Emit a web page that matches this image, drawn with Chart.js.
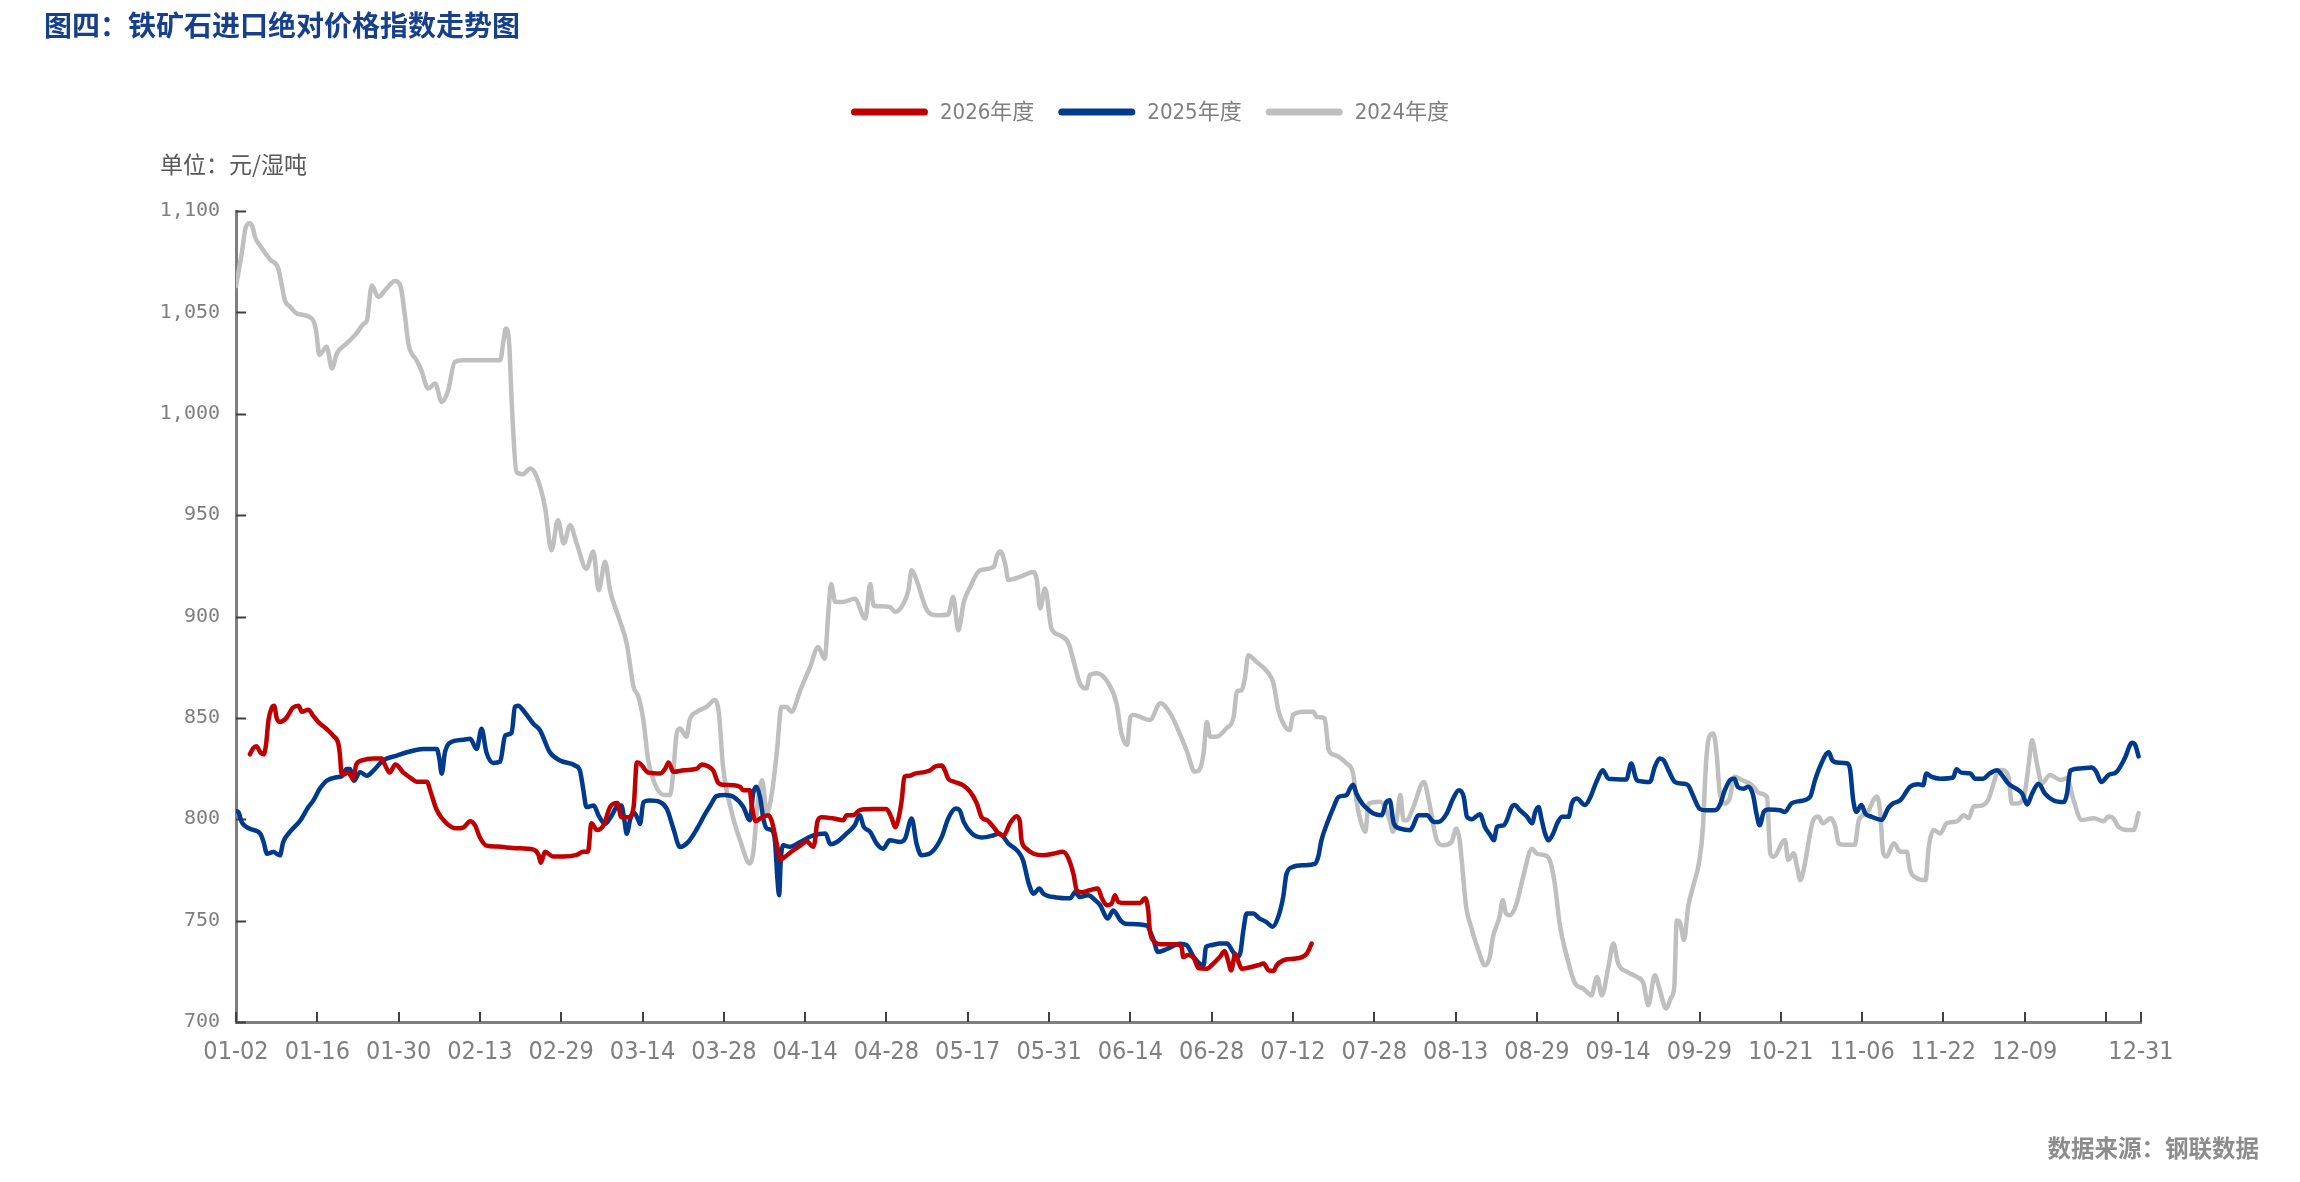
<!DOCTYPE html>
<html>
<head>
<meta charset="utf-8">
<script src="https://cdn.jsdelivr.net/npm/chart.js@4.4.1/dist/chart.umd.min.js"></script>
<style>
  html, body { margin: 0; padding: 0; background: #fff; }
  #wrap { position: relative; width: 2300px; height: 1182px; }
  #chart { position: absolute; left: 0; top: 0; }
  .txt { position: absolute; line-height: 1; white-space: nowrap; font-family: "Noto Sans CJK SC", sans-serif; }
  #title { left: 44px; top: 10px; font-size: 28px; font-weight: 700; color: #163f8c; }
  #unit { left: 160px; top: 152px; font-size: 23px; color: #595959; }
  #source { right: 41px; top: 1136px; font-size: 23.5px; font-weight: 700; color: #8c8c8c; }
</style>
</head>
<body>
<div id="wrap">
  <canvas id="chart" width="2300" height="1182"></canvas>
  <div id="title" class="txt">图四：铁矿石进口绝对价格指数走势图</div>
  <div id="unit" class="txt">单位：元/湿吨</div>
  <div id="source" class="txt">数据来源：钢联数据</div>
</div>
<script>
// x is the trading-day position counted from 01-02
const tickPositions = [0, 10, 20, 30, 40, 50, 60, 70, 80, 90, 100, 110, 120, 130, 140, 150, 160, 170, 180, 190, 200, 210, 220, 230, 234.3];
const tickLabels = ['01-02', '01-16', '01-30', '02-13', '02-29', '03-14', '03-28', '04-14', '04-28', '05-17', '05-31', '06-14', '06-28',
  '07-12', '07-28', '08-13', '08-29', '09-14', '09-29', '10-21', '11-06', '11-22', '12-09', '', '12-31'];

const seriesNames = ['2026年度', '2025年度', '2024年度'];

const values2026 = [
  [1.7, 832], [2.1, 835], [2.5, 836], [3.0, 833], [3.4, 832], [3.7, 837], [4.0, 849], [4.4, 855], [4.7, 856], [5.0, 850],
  [5.4, 848], [6.2, 850], [7.0, 855], [7.7, 856], [8.1, 853], [8.9, 854], [9.5, 851], [10.1, 848], [11.0, 845], [12.0, 841],
  [12.6, 837], [12.8, 831], [12.95, 823], [13.2, 822], [13.8, 823], [14.4, 820], [14.8, 827], [15.5, 829], [16.9, 830], [17.9, 830],
  [18.3, 827], [18.9, 823], [19.6, 827], [20.6, 823], [21.6, 820], [22.2, 818.5], [23.5, 818.5], [23.9, 814], [24.7, 804.5], [25.9, 798],
  [27.1, 795.5], [28, 796], [28.8, 799], [29.4, 797], [30, 791], [30.8, 787], [32.1, 786.5], [34.5, 785.7], [36.6, 785], [37.2, 782.5],
  [37.5, 778.5], [38, 784], [39, 781.6], [40.3, 781.6], [41.9, 782.4], [42.7, 784], [43.3, 784], [43.7, 798], [44.4, 794.7], [45.2, 797],
  [46, 806], [46.9, 808], [47.4, 801], [48.3, 801], [48.9, 806], [49.3, 828], [49.7, 827.5], [50.7, 823], [52.2, 822.6], [52.8, 825],
  [53.2, 828], [53.8, 823.4], [55.1, 824.2], [56.7, 825], [57.3, 827], [58.1, 826], [58.7, 824], [59.3, 818], [59.9, 817], [61.2, 816.8],
  [62, 816], [62.4, 814.3], [63.2, 814.3], [63.4, 808], [63.9, 799], [64.7, 801], [65.5, 802], [65.9, 799], [66.3, 792], [66.7, 784],
  [66.9, 780], [67.5, 781.4], [68.3, 784], [69.4, 787], [70.2, 789], [71, 786.4], [71.2, 789], [71.5, 798.7], [72, 801], [73.5, 800.4],
  [74.7, 799.5], [75.1, 802], [75.9, 802], [76.7, 804.5], [78.4, 805], [80, 805], [80.6, 801], [81.1, 796], [81.4, 799], [81.9, 810],
  [82.2, 821], [82.9, 821.5], [83.5, 822.5], [84.8, 823.4], [85.4, 824.2], [86, 826], [86.8, 826.5], [87.2, 824], [87.6, 820], [88.4, 818.4],
  [89.4, 816.8], [90.3, 813.5], [91.1, 808], [91.7, 801], [92.4, 799.5], [93.2, 796], [93.8, 793], [94.4, 792], [95.2, 798], [96, 801.5],
  [96.4, 799], [96.6, 790], [97.2, 785.5], [98.1, 783], [99.3, 782.2], [100.5, 783], [101.7, 784], [102.3, 781.4], [103, 773], [103.4, 765],
  [104, 764], [105, 765], [106, 765.8], [106.5, 761], [107.1, 757.6], [107.7, 758.4], [108.1, 762.5], [108.5, 759.2], [109.4, 758.7], [111.2, 758.7],
  [111.8, 761], [112.2, 755], [112.4, 745], [113, 739.5], [113.7, 738.3], [115.7, 738.3], [116.3, 737], [116.5, 732], [117.1, 733], [117.8, 731.5],
  [118.4, 726.5], [119.4, 726.3], [120.2, 728.8], [121, 732], [121.6, 735], [122, 730.5], [122.4, 725.5], [122.9, 733.7], [123.3, 729.6], [123.7, 726.3],
  [124.7, 727], [125.7, 728], [126.4, 728.8], [127, 725.5], [127.6, 725.2], [128, 728], [128.8, 730.4], [130, 731.2], [131.1, 732], [131.7, 733.7],
  [132.3, 738.7]
];

const values2025 = [
  [0, 804], [0.3, 803.5], [0.7, 798.6], [1.7, 795.3], [3, 792.8], [3.4, 788.7], [3.8, 783], [4.6, 783.8], [5.4, 782.2], [5.8, 788.7],
  [6.6, 793.6], [7.9, 799.4], [8.9, 806], [9.5, 809.2], [10.3, 815], [11.15, 819], [12.4, 820.7], [13, 821.2], [13.6, 824.8], [14, 824.8],
  [14.5, 819], [15.25, 823.2], [16.1, 821.5], [16.9, 824], [18.1, 829], [19.8, 831.4], [21.4, 833.4], [23, 834.7], [24.7, 834.7], [25, 830],
  [25.3, 822.5], [25.7, 833], [26.3, 837.7], [28, 839.2], [28.8, 839.7], [29.6, 834.7], [30.2, 844.6], [30.8, 833], [31.65, 827.8], [32.5, 828.5],
  [33.1, 841.3], [33.9, 842.6], [34.3, 855.3], [34.7, 856], [35.5, 852.8], [36.6, 847], [37.4, 843.8], [38.6, 833], [39.85, 829], [41.7, 826.5],
  [42.3, 824], [42.7, 815], [43.1, 806], [44, 806.8], [44.6, 801.8], [45.4, 797.7], [46.2, 801.8], [47, 806.8], [47.4, 806.8], [47.8, 798.6],
  [48.05, 792.8], [48.5, 800.2], [48.9, 803.5], [49.5, 799.4], [49.7, 797.7], [50.1, 808.4], [50.9, 809.2], [52.2, 808.4], [53, 805], [53.8, 795.3],
  [54.6, 786.3], [55.6, 788.7], [56.7, 795.3], [57.7, 802.7], [58.3, 806.5], [59.1, 811.4], [60.1, 812], [61.2, 811], [62.4, 806], [63.2, 799.5],
  [63.6, 812.6], [64, 816], [64.45, 811], [64.9, 799.5], [65.3, 795.4], [65.9, 794.6], [66.3, 788.8], [66.6, 770], [66.8, 762.5], [67, 779.8],
  [67.3, 787.2], [68.1, 786.4], [69.4, 788.8], [71, 792], [72.5, 793], [73.1, 787.7], [73.9, 788.8], [75.1, 793], [76.1, 797], [76.7, 802],
  [77.2, 796.3], [78, 793.8], [78.8, 788], [79.6, 785.5], [80.4, 789.6], [81.7, 788.8], [82.3, 790.5], [83.1, 800.4], [83.7, 788], [84.3, 782.3],
  [85.6, 783.9], [86.8, 791.3], [87.6, 800.4], [88.5, 805.3], [89, 804.5], [89.5, 798.7], [90.5, 793], [91.7, 791], [93.1, 792], [93.9, 793],
  [95, 788], [96.2, 784], [96.8, 779.8], [97.5, 768.3], [98.1, 763.3], [98.8, 765.8], [99.3, 763.3], [100.9, 761.4], [102.6, 761], [103.2, 764],
  [103.8, 761.6], [104.8, 762.5], [105.7, 760], [106.3, 757.5], [107.2, 751], [107.9, 755], [108.8, 750], [109.4, 748.5], [112, 747.6], [112.8, 741],
  [113.4, 734.5], [114.5, 736], [116.1, 738.6], [116.9, 738], [117.8, 732], [118.6, 728.5], [119, 728], [119.3, 737], [119.8, 737.8], [121, 738.7],
  [121.9, 738.7], [122.5, 735.4], [123.1, 732], [123.5, 733.7], [123.9, 745.3], [124.3, 753.5], [125.1, 753.5], [125.9, 751], [126.7, 749.4], [127.5, 747],
  [128.2, 752], [128.8, 761.7], [129.2, 773], [130, 776.5], [131.3, 777.3], [132.7, 778], [133.1, 781.4], [133.5, 789.6], [134.2, 798], [135, 806],
  [135.6, 811], [136.6, 812], [137, 815], [137.4, 817], [137.8, 812.7], [138.5, 807.8], [139.1, 805.3], [139.9, 802.8], [140.9, 802], [141.5, 808.6],
  [141.9, 809.4], [142.4, 798], [143.2, 795.4], [144.4, 794.6], [144.8, 797], [145.4, 802], [146.5, 802], [147.3, 798.7], [147.9, 798.7], [148.9, 802.8],
  [149.7, 810.2], [150.4, 814.3], [151, 811], [151.4, 801.2], [152, 800], [153, 802.5], [153.6, 796.2], [154.3, 792], [154.7, 789.6], [155.1, 796.2],
  [155.9, 797], [156.3, 799.5], [156.9, 806], [157.3, 807], [157.9, 804.5], [158.8, 801.2], [159.4, 798], [159.8, 803.7], [160.2, 806], [160.6, 799.5],
  [161, 793], [161.4, 789.6], [162, 793], [162.5, 798], [163.1, 801.2], [163.9, 801.2], [164.3, 807.8], [164.9, 810.2], [165.9, 807], [166.5, 810.2],
  [167.4, 819.2], [168.1, 824.2], [168.8, 820], [171, 819.6], [171.6, 827.5], [172.3, 819.2], [173.9, 818.4], [174.5, 825.8], [175.1, 830], [175.6, 829],
  [176.2, 824], [177, 818.3], [178, 817.5], [178.6, 816.7], [179.2, 811.7], [180, 805.2], [180.8, 804.4], [181.9, 804.4], [182.5, 807], [183.1, 814.2],
  [183.8, 819.5], [184.3, 820], [184.7, 816], [185.4, 815.1], [186, 816], [186.6, 811.8], [187, 802.8], [187.4, 797], [187.9, 803.6], [188.5, 804.8],
  [189.9, 804.4], [190.5, 803.6], [191.3, 807.8], [192.4, 809], [193.6, 811], [194.2, 819.2], [194.8, 825.8], [195.9, 833], [196.3, 829.3], [196.9, 828],
  [198.1, 827.6], [198.5, 825], [198.9, 809.5], [199.3, 803.7], [199.9, 807], [200.4, 802.8], [201.2, 801.2], [202.4, 799.6], [203.2, 805.4], [203.8, 807.8],
  [204.7, 809.4], [205.9, 816], [206.9, 817.3], [207.5, 816.8], [207.9, 822.6], [208.5, 821], [209.6, 820], [211.2, 820.6], [211.6, 824.6], [212.2, 823],
  [213.3, 822.6], [213.9, 820], [214.9, 820], [215.7, 822.6], [216.6, 824.2], [217.2, 821.8], [218, 817.5], [219, 815], [219.7, 812.6], [220.3, 807.3],
  [220.9, 812.6], [221.7, 817.5], [222.5, 812.6], [223.5, 809.4], [224.8, 808.5], [225.2, 812.6], [225.6, 824], [226.8, 825], [228.2, 825.5], [228.8, 823.4],
  [229.4, 818.4], [230.3, 821.8], [231.3, 823.4], [232.3, 830], [233.2, 837.7], [233.6, 836.5], [234, 831]
];

const values2024 = [
  [0, 1063], [0.7, 1079], [1.2, 1092], [1.7, 1094], [2.05, 1092], [2.35, 1087], [2.95, 1083], [4.2, 1076], [5.2, 1071.6], [5.6, 1064],
  [6.0, 1056], [6.6, 1053], [7.5, 1049.4], [9.3, 1047], [9.85, 1041], [10.25, 1029], [11.15, 1033], [11.8, 1022.3], [12.4, 1029.7], [13.6, 1034.6],
  [14.8, 1039.5], [15.7, 1044.4], [16.1, 1046], [16.7, 1063.3], [17.5, 1057.6], [18.5, 1061.7], [19.55, 1065.5], [20.2, 1063.3], [20.8, 1047.7], [21.2, 1034.6],
  [22.2, 1026.4], [22.8, 1021.4], [23.65, 1012.4], [24.5, 1014.9], [25.3, 1005.8], [26.1, 1011.6], [26.9, 1025.5], [28, 1026.4], [32.5, 1026.4], [32.9, 1036],
  [33.2, 1042], [33.6, 1034.6], [33.9, 1006.6], [34.5, 971.3], [35.3, 970.2], [36.2, 973], [37, 968.8], [38, 954], [38.8, 932.7], [39.6, 947.5],
  [40.3, 936], [41.1, 945], [41.9, 936], [43.1, 923.6], [43.95, 932], [44.6, 913], [45.4, 927], [46, 913], [47.2, 898], [48.05, 886.7],
  [48.9, 865.3], [49.5, 860.4], [50.1, 849], [50.7, 829], [51.5, 817.6], [52.6, 812], [53.4, 812], [53.8, 824], [54.2, 842.3], [54.6, 844.8],
  [55.4, 840.7], [55.8, 849], [56.7, 853], [57.9, 855.5], [58.9, 858.8], [59.4, 852], [59.9, 826], [61, 803], [62, 789.6], [63.2, 778.2],
  [63.6, 783], [64.2, 809.3], [64.7, 819.2], [65.3, 803], [65.9, 812.7], [66.5, 832.4], [67.1, 855.4], [67.7, 855.4], [68.3, 853], [69.4, 863.6],
  [70.6, 875], [71.6, 885], [72.4, 879.2], [72.9, 904.7], [73.2, 916], [73.7, 907.2], [74.7, 907.2], [76.1, 908.8], [77.4, 899], [78, 916],
  [78.4, 905.5], [79.2, 905], [80.4, 904.7], [81.1, 902.2], [82.1, 906.4], [82.7, 913], [83.1, 922.8], [83.7, 918], [85, 903], [86.2, 900.6],
  [87.6, 901], [88.2, 909.6], [88.85, 893.2], [89.5, 907], [90.3, 914.6], [91.5, 922.8], [93.2, 924.5], [93.6, 930], [94, 932], [94.6, 926],
  [95, 918], [96.4, 919.5], [98.1, 922], [98.5, 918], [98.9, 904], [99.5, 913.8], [100.3, 894], [101.3, 890.8], [102.4, 886.7], [103.2, 875.2],
  [103.8, 867], [104.6, 864.5], [105, 871], [105.9, 872], [107.3, 867], [108.3, 857.2], [108.9, 842.3], [109.6, 836.6], [110, 850.5], [110.4, 851.4],
  [112.4, 849], [113.7, 857.2], [114.9, 852.2], [116.1, 842], [117, 833], [117.9, 823.5], [118.4, 824], [119, 832.4], [119.4, 848], [119.8, 840.7],
  [120.6, 840.7], [121.8, 844.8], [122.7, 850.5], [123.1, 862.9], [123.7, 863.7], [124.1, 870], [124.5, 880.9], [125.5, 877.6], [127, 872], [127.6, 867],
  [128.2, 853.8], [128.8, 847.3], [129.6, 844], [130, 851.4], [131.3, 853], [132.5, 853], [132.9, 850.5], [133.9, 849.7], [134.4, 834], [135.2, 831.6],
  [136.6, 827.5], [137.4, 822.5], [137.8, 809.4], [138.4, 798], [138.9, 793.8], [139.3, 807.7], [140.7, 808.6], [141.3, 806], [141.9, 799.5], [142.3, 793.8],
  [142.8, 801.2], [143.2, 812], [143.6, 799.5], [144, 799.5], [144.8, 806], [146.1, 818.4], [146.7, 809.4], [147.7, 789.6], [148.5, 787.2], [149.5, 788.8],
  [150.1, 795.4], [150.5, 789.6], [150.9, 773.2], [151.3, 756.7], [151.9, 747], [152.8, 735.4], [153.6, 728], [154.2, 732], [154.6, 742], [155.4, 751.8],
  [155.8, 760], [156.2, 753.5], [156.7, 752.6], [157.5, 758.4], [158.3, 771.5], [159.4, 785.5], [160, 783], [161, 782.2], [161.6, 779.7], [162.2, 768.2],
  [162.8, 748.5], [163.7, 732], [164.7, 719], [165.7, 716.5], [166.7, 713.2], [167.4, 722.2], [168, 713.2], [168.8, 727.2], [169.4, 738.7], [170, 728.8],
  [171.1, 724.7], [172.3, 722.2], [173.1, 719], [173.7, 708.3], [174.5, 723], [175.1, 716], [175.9, 706.6], [176.5, 712], [176.9, 717.4], [177.2, 750],
  [177.6, 749], [178.1, 740.4], [178.6, 756.8], [179.2, 766.7], [180, 780], [180.4, 794.7], [180.8, 827.5], [181.2, 840.7], [181.7, 842.3], [182.1, 832.5],
  [182.5, 812.7], [183.1, 807.8], [183.7, 810.3], [184.3, 821], [185.2, 819.4], [186.4, 817], [187.4, 812.8], [188.3, 811], [188.7, 783.2], [189.1, 781.5],
  [190.5, 789.8], [190.9, 780], [191.6, 783.2], [192, 776.6], [192.4, 770], [192.8, 775], [194, 799.6], [194.6, 801.3], [195.2, 798], [196.1, 800.5],
  [196.7, 796.4], [197.1, 788.2], [197.7, 787.4], [199.1, 787.4], [199.6, 799.7], [200.6, 803], [201.4, 809.5], [201.8, 811.2], [202.2, 804.6], [202.6, 783.2],
  [203, 781.6], [203.9, 788.2], [204.7, 784], [205.5, 784], [205.9, 775], [206.7, 771], [207.8, 770], [208.2, 786.5], [208.8, 794.7], [209.6, 793],
  [210.4, 798], [211.7, 799], [212.5, 802], [213.1, 800.5], [213.7, 806.3], [214.5, 806.6], [215.5, 809.5], [216.6, 822.7], [217.2, 824.3], [218, 821],
  [218.4, 807.8], [219, 807.8], [219.9, 811], [220.5, 827.5], [220.9, 839], [221.5, 827.5], [222.1, 817.7], [223.1, 821.8], [224.4, 819.4], [225.2, 820.2],
  [226, 809.5], [227, 799.6], [228.5, 800.5], [229.7, 799], [230.3, 801.3], [230.9, 800.5], [231.5, 796.4], [232.6, 794.7], [233.4, 794.7], [234, 803]
];

const seriesColors = ['#c00000', '#003a8c', '#bfbfbf'];
const narrowFont = '"Liberation Sans Narrow", "DejaVu Sans Condensed", "Roboto Condensed", "Noto Sans CJK SC", sans-serif';
const axisColor = '#7f7f7f';

// short tick marks pointing into the plot area
const innerTicks = {
    id: 'innerTicks',
    beforeDatasetsDraw(chart) {
        const { ctx, chartArea, scales } = chart;
        ctx.save();
        ctx.strokeStyle = '#404040';
        ctx.lineWidth = 2;
        ctx.beginPath();
        scales.y.ticks.forEach(t => {
            const y = Math.round(scales.y.getPixelForValue(t.value)) + 0.5;
            ctx.moveTo(chartArea.left, y);
            ctx.lineTo(chartArea.left + 10, y);
        });
        scales.x.ticks.forEach(t => {
            const x = Math.round(scales.x.getPixelForValue(t.value));
            ctx.moveTo(x, chartArea.bottom);
            ctx.lineTo(x, chartArea.bottom - 10);
        });
        ctx.stroke();
        ctx.restore();
    }
};

// legend: rounded line swatch + label, centred across the canvas
const lineLegend = {
    id: 'lineLegend',
    afterDraw(chart) {
        const ctx = chart.ctx;
        const sets = chart.data.datasets;
        const swatch = 77, gap = 12, spacing = 24, y = 112;
        ctx.save();
        ctx.font = '22px ' + narrowFont;
        const widths = sets.map(d => swatch + gap + ctx.measureText(d.label).width);
        const total = widths.reduce((a, b) => a + b, 0) + spacing * (sets.length - 1);
        let x = (chart.width - total) / 2;
        sets.forEach((d, i) => {
            ctx.strokeStyle = d.borderColor;
            ctx.lineWidth = 7;
            ctx.lineCap = 'round';
            ctx.beginPath();
            ctx.moveTo(x + 3.5, y);
            ctx.lineTo(x + swatch - 3.5, y);
            ctx.stroke();
            ctx.fillStyle = '#7f7f7f';
            ctx.textBaseline = 'middle';
            ctx.fillText(d.label, x + swatch + gap, y + 1);
            x += widths[i] + spacing;
        });
        ctx.restore();
    }
};

const seriesValues = [values2026, values2025, values2024];

new Chart(document.getElementById('chart'), {
    type: 'line',
    data: {
        datasets: seriesNames.map((name, i) => ({
            label: name,
            data: seriesValues[i],
            borderColor: seriesColors[i],
            backgroundColor: seriesColors[i],
            borderWidth: 4.5,
            pointRadius: 0,
            fill: false,
            cubicInterpolationMode: 'monotone',
            borderJoinStyle: 'round',
            borderCapStyle: 'round',
        })),
    },
    options: {
        responsive: false,
        devicePixelRatio: 1,
        animation: false,
        layout: { padding: { left: 0, right: 159, top: 211, bottom: 0 } },
        plugins: {
            legend: { display: false },
            tooltip: { enabled: false },
        },
        scales: {
            x: {
                type: 'linear',
                min: 0,
                max: 234.3,
                afterBuildTicks: scale => {
                    scale.ticks = tickPositions.map(v => ({ value: v }));
                },
                afterFit: scale => { scale.height = 160; },
                grid: { display: false, drawTicks: false },
                border: { display: true, color: axisColor, width: 3 },
                ticks: {
                    autoSkip: false,
                    maxRotation: 0,
                    padding: 15,
                    color: '#7f7f7f',
                    font: { family: narrowFont, size: 25 },
                    callback: (v, i) => tickLabels[i],
                },
            },
            y: {
                min: 700,
                max: 1100,
                afterFit: scale => { scale.width = 236; },
                grid: { display: false, drawTicks: false },
                border: { display: true, color: axisColor, width: 3 },
                ticks: {
                    stepSize: 50,
                    padding: 16,
                    color: '#7f7f7f',
                    font: { family: '"DejaVu Sans Mono", monospace', size: 20 },
                    callback: v => v.toLocaleString('en-US'),
                },
            },
        },
    },
    plugins: [innerTicks, lineLegend],
});
</script>
</body>
</html>
